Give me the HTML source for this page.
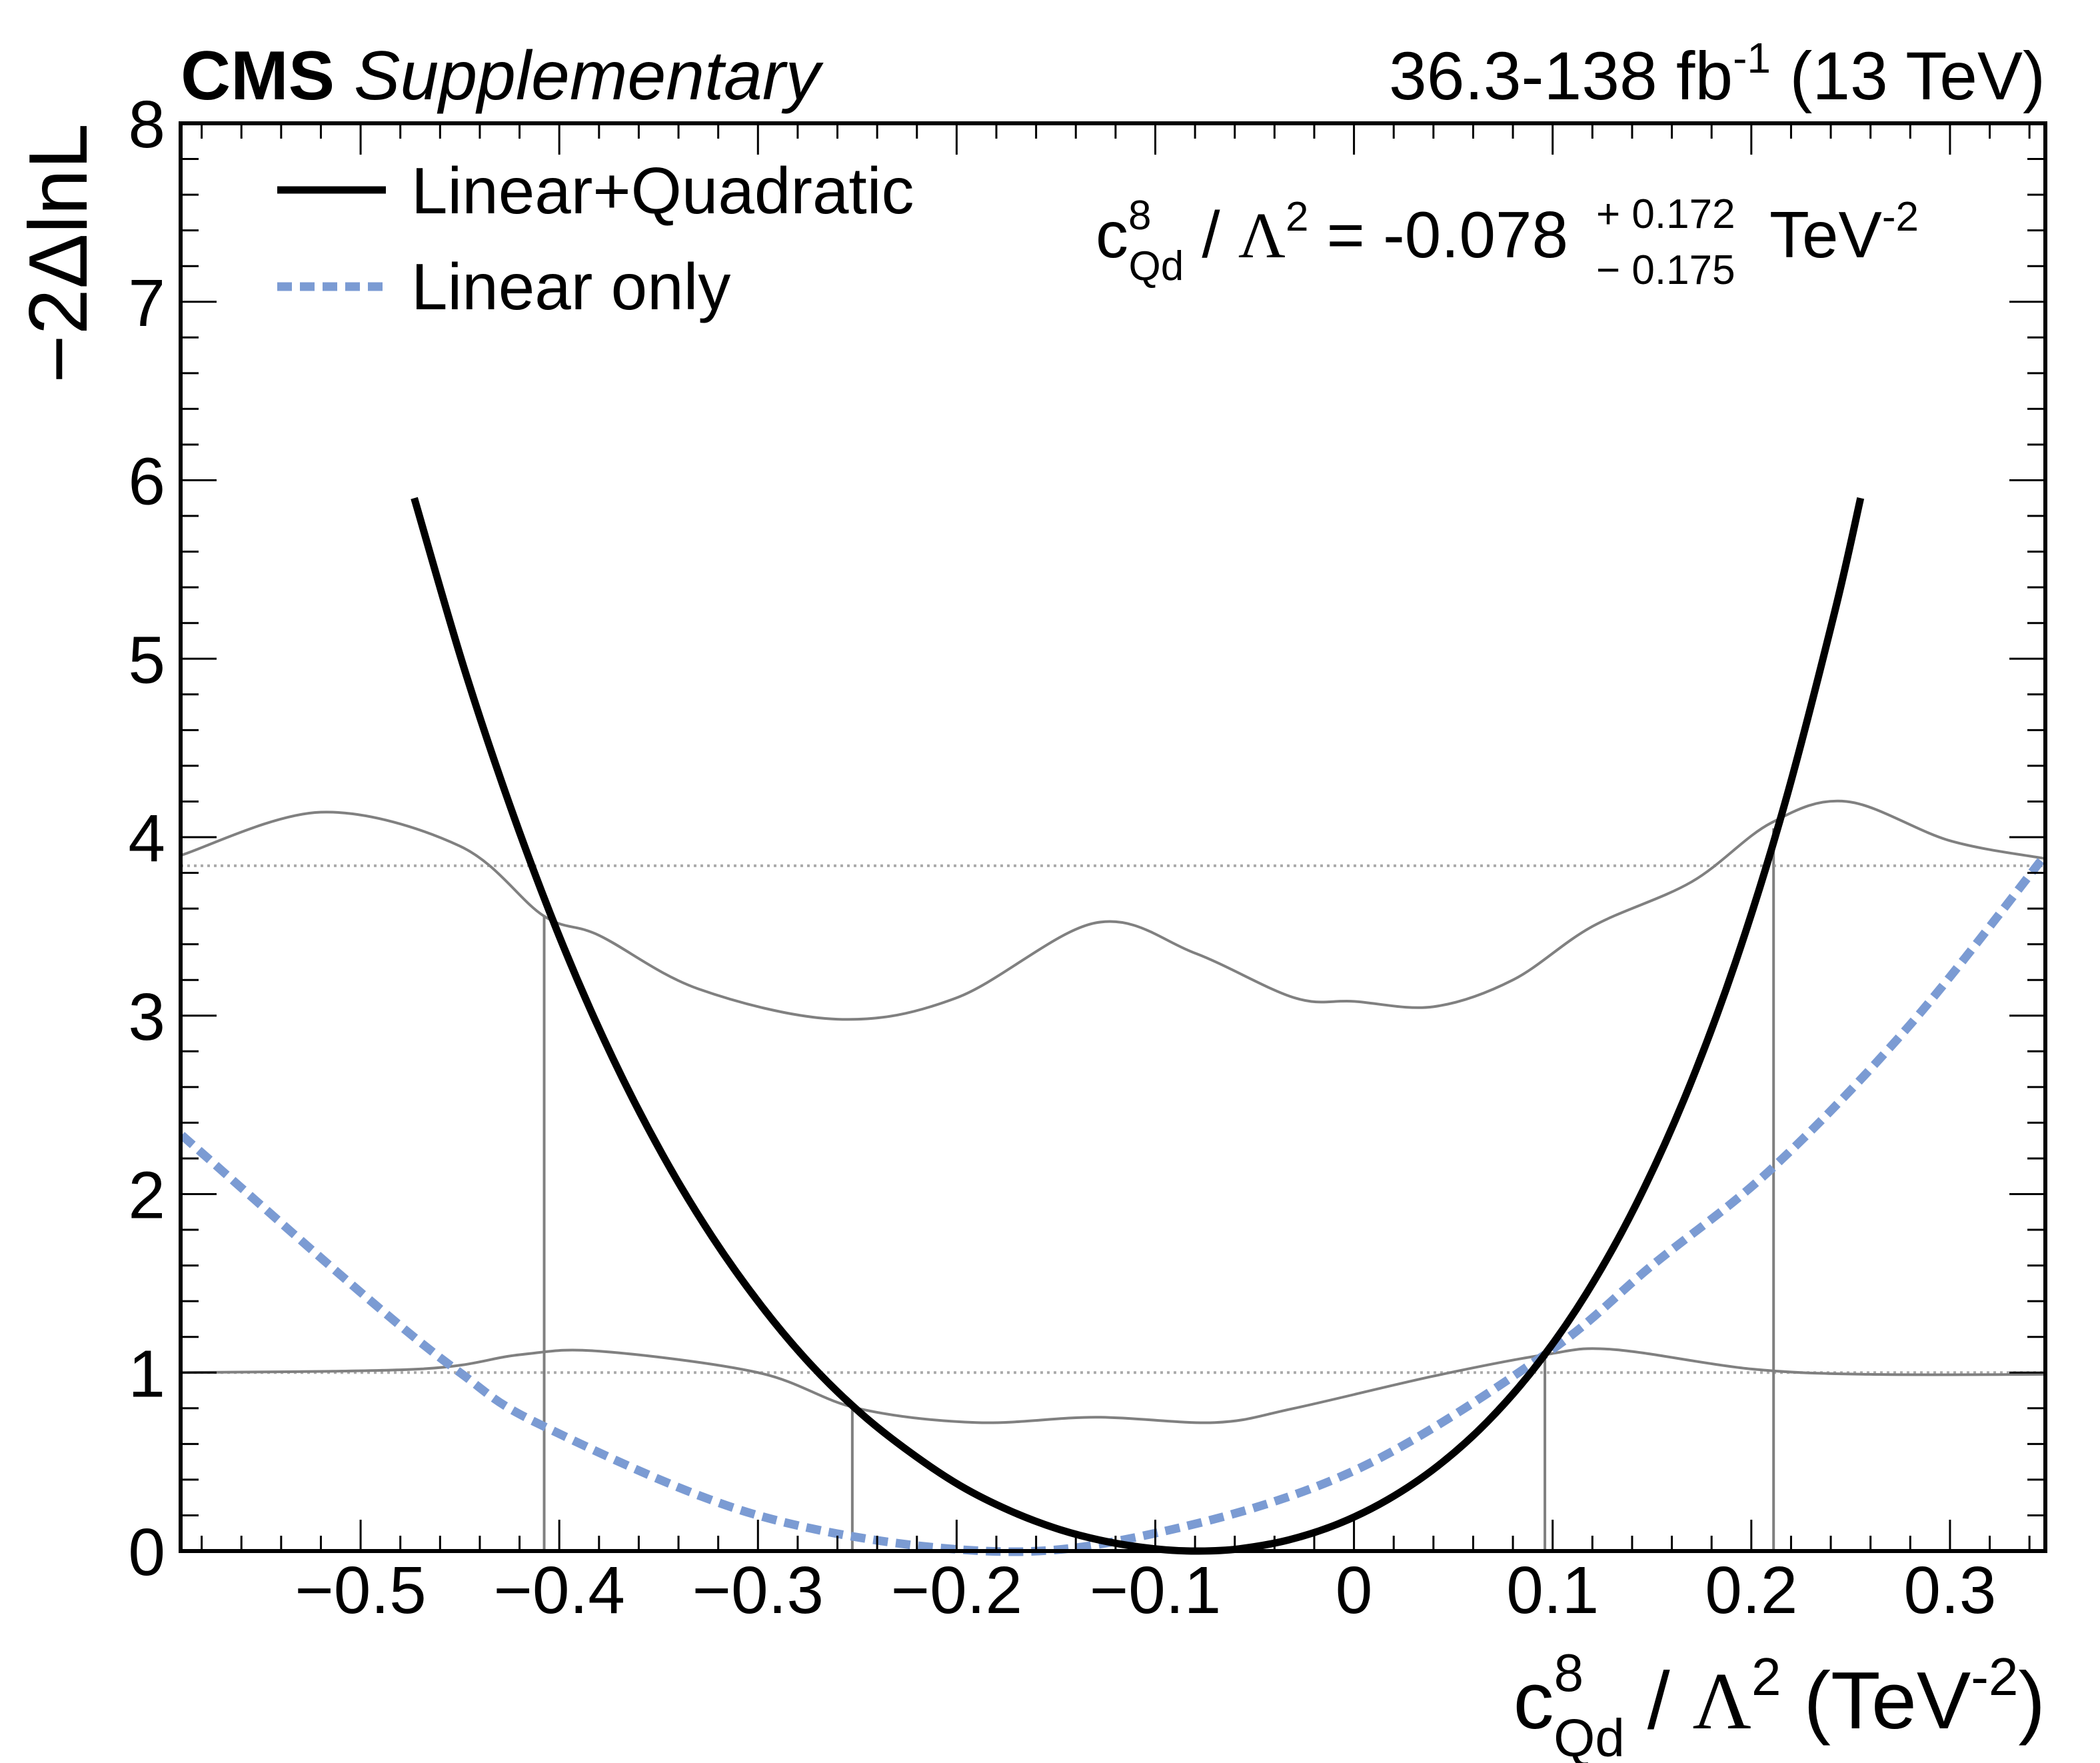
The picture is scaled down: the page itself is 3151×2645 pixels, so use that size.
<!DOCTYPE html>
<html><head><meta charset="utf-8"><style>
html,body{margin:0;padding:0;background:#fff}
svg{display:block;font-family:"Liberation Sans",sans-serif}
</style></head><body>
<svg id="chart" width="3151" height="2645" viewBox="0 0 3151 2645" xmlns="http://www.w3.org/2000/svg">
<rect width="3151" height="2645" fill="#fff"/>
<g id="marks"></g>
<g id="axes"></g>
<text x="271" y="149" font-size="104" font-weight="bold">CMS <tspan font-weight="normal" font-style="italic">Supplementary</tspan></text>
<text x="3069" y="149" font-size="102" text-anchor="end">36.3-138 fb<tspan font-size="64" dy="-40">-1</tspan><tspan dy="40"> (13 TeV)</tspan></text>
<text transform="translate(130,185) rotate(-90)" font-size="124" text-anchor="end">−2ΔlnL</text>
<text x="3069" y="2593" font-size="122" text-anchor="end">c<tspan font-size="80" dy="-56">8</tspan><tspan font-size="80" dx="-45" dy="98">Qd</tspan><tspan dy="-42"> / </tspan><tspan font-family="Liberation Serif">Λ</tspan><tspan font-size="80" dy="-50">2</tspan><tspan dy="50"> (TeV</tspan><tspan font-size="80" dy="-50">-2</tspan><tspan dy="50">)</tspan></text>
<g>
<line x1="416" y1="285" x2="579" y2="285" stroke="#000" stroke-width="11"/>
<text x="617" y="320" font-size="98">Linear+Quadratic</text>
<line x1="416" y1="430" x2="579" y2="430" stroke="#7b9bd3" stroke-width="13" stroke-dasharray="22,12"/>
<text x="617" y="464" font-size="98">Linear only</text>
</g>
<text x="1644" y="386" font-size="98">c<tspan font-size="62" dy="-42">8</tspan><tspan font-size="62" dx="-34" dy="76">Qd</tspan><tspan dy="-34"> / </tspan><tspan font-family="Liberation Serif">Λ</tspan><tspan font-size="62" dy="-40">2</tspan><tspan dy="40"> = -0.078</tspan></text>
<text x="2395" y="342" font-size="62">+ 0.172</text>
<text x="2395" y="426" font-size="62">− 0.175</text>
<text x="2655" y="386" font-size="98">TeV<tspan font-size="62" dy="-40">-2</tspan></text>
</svg>
<script>
const xTicks = [-0.5,-0.4,-0.3,-0.2,-0.1,0,0.1,0.2,0.3];
const xTickLabels = ["−0.5","−0.4","−0.3","−0.2","−0.1","0","0.1","0.2","0.3"];
const yTicks = [0,1,2,3,4,5,6,7,8];
const quadX = [-0.473,-0.448,-0.423,-0.398,-0.373,-0.348,-0.323,-0.298,-0.273,-0.248,-0.223,-0.198,-0.173,-0.148,-0.123,-0.098,-0.078,-0.058,-0.033,-0.008,0.017,0.042,0.067,0.092,0.117,0.142,0.167,0.192,0.217,0.242,0.255];
const quadY = [5.9,4.95,4.12,3.39,2.76,2.22,1.76,1.37,1.04,0.77,0.55,0.365,0.225,0.12,0.05,0.01,0,0.012,0.062,0.152,0.288,0.475,0.723,1.042,1.443,1.942,2.554,3.298,4.194,5.264,5.9];
const linX = [-0.59,-0.5,-0.45,-0.408,-0.3,-0.186,-0.1,0,0.096,0.15,0.211,0.28,0.348];
const linY = [2.33,1.45,1.0,0.7,0.2,0,0.1,0.45,1.1,1.6,2.15,2.95,3.9];
const band2X = [-0.59,-0.52,-0.45,-0.408,-0.38,-0.33,-0.26,-0.2,-0.13,-0.08,-0.03,0,0.04,0.08,0.12,0.17,0.21,0.248,0.3,0.348];
const band2Y = [3.9,4.14,3.95,3.56,3.45,3.15,2.98,3.1,3.52,3.35,3.1,3.08,3.05,3.2,3.5,3.75,4.08,4.2,3.98,3.88];
const band1X = [-0.59,-0.47,-0.42,-0.38,-0.3,-0.25,-0.19,-0.13,-0.07,-0.03,0.04,0.096,0.13,0.2,0.26,0.348];
const band1Y = [1.0,1.02,1.1,1.12,1.0,0.8,0.72,0.75,0.72,0.8,0.98,1.1,1.13,1.02,0.99,0.99];
const thresholds = [1, 3.84];
const crossX = [-0.4076,-0.2525,0.0961,0.2112];
const crossY = [3.56,0.82,1.1,4.05];

const L=271,R=3069,T=185,B=2327, XMIN=-0.5906, XMAX=0.348, YMAX=8;
const sx=v=>L+(v-XMIN)/(XMAX-XMIN)*(R-L);
const sy=v=>B-v/YMAX*(B-T);
const NS='http://www.w3.org/2000/svg';
const marks=document.getElementById('marks'), axes=document.getElementById('axes');
function mk(tag,attrs,parent){const e=document.createElementNS(NS,tag);for(const k in attrs)e.setAttribute(k,attrs[k]);parent.appendChild(e);return e;}
function smooth(xs,ys){
  const p=xs.map((x,i)=>[sx(x),sy(ys[i])]);
  let d='M'+p[0][0]+','+p[0][1];
  for(let i=0;i<p.length-1;i++){
    const p0=p[i-1]||p[i],p1=p[i],p2=p[i+1],p3=p[i+2]||p2;
    const c1=[p1[0]+(p2[0]-p0[0])/6,p1[1]+(p2[1]-p0[1])/6];
    const c2=[p2[0]-(p3[0]-p1[0])/6,p2[1]-(p3[1]-p1[1])/6];
    d+=' C'+c1+' '+c2+' '+p2;
  }
  return d;
}
thresholds.forEach(t=>{
  const l=mk('line',{x1:L,x2:R,y1:sy(t),y2:sy(t),stroke:'#aaa','stroke-width':4,'stroke-dasharray':'4,6'},marks);
  
  
});
crossX.forEach((x,i)=>{
  const l=mk('line',{x1:sx(x),x2:sx(x),y1:B,y2:sy(crossY[i]),stroke:'#808080','stroke-width':4},marks);
  
  
});
let e;
e=mk('path',{d:smooth(band2X,band2Y),fill:'none',stroke:'#808080','stroke-width':4},marks);


e=mk('path',{d:smooth(band1X,band1Y),fill:'none',stroke:'#808080','stroke-width':4},marks);


e=mk('path',{d:smooth(linX,linY),fill:'none',stroke:'#7b9bd3','stroke-width':13,'stroke-dasharray':'22,12'},marks);


e=mk('path',{d:smooth(quadX,quadY),fill:'none',stroke:'#000','stroke-width':11},marks);



e=mk('rect',{x:L,y:T,width:R-L,height:B-T,fill:'none',stroke:'#000','stroke-width':6},axes);


for(let k=-30;k<=18;k++){
  const v=k*0.02; if(v<XMIN||v>XMAX) continue;
  const major=k%5===0, len=major?47:23, x=sx(v);
  e=mk('line',{x1:x,x2:x,y1:B,y2:B-len,stroke:'#000','stroke-width':3},axes);
  
  
  e=mk('line',{x1:x,x2:x,y1:T,y2:T+len,stroke:'#000','stroke-width':3},axes);
  
  
}
for(let k=0;k<=40;k++){
  const v=k*0.2, major=k%5===0, len=major?54:27, y=sy(v);
  e=mk('line',{x1:L,x2:L+len,y1:y,y2:y,stroke:'#000','stroke-width':3},axes);
  
  
  e=mk('line',{x1:R,x2:R-len,y1:y,y2:y,stroke:'#000','stroke-width':3},axes);
  
  
}
xTicks.forEach((v,i)=>{
  const t=mk('text',{x:sx(v),y:2420,'font-size':100,'text-anchor':'middle'},axes);
  t.textContent=xTickLabels[i];
  
  
});
yTicks.forEach(v=>{
  const t=mk('text',{x:248,y:sy(v)+36,'font-size':100,'text-anchor':'end'},axes);
  t.textContent=String(v);
  
  
});
</script>
</body></html>
